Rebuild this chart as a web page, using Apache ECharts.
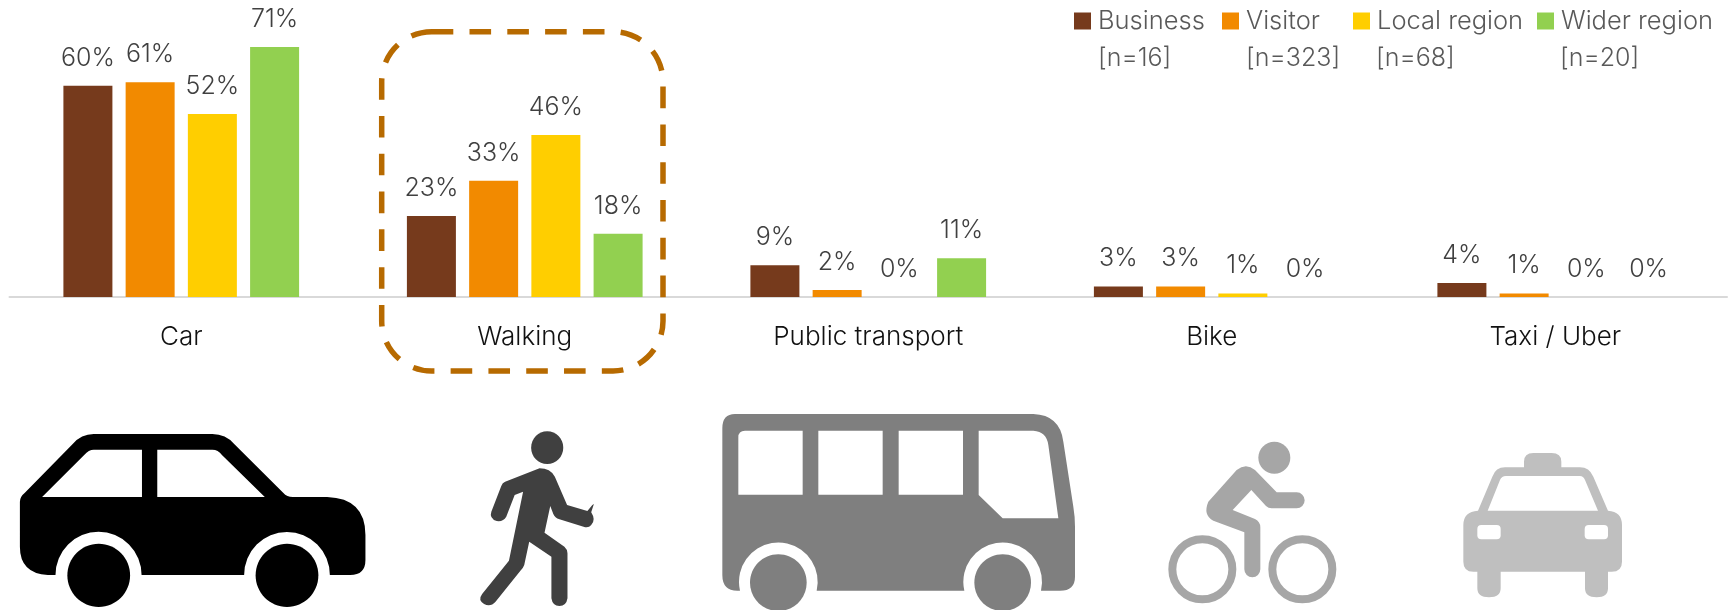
<!DOCTYPE html>
<html>
<head>
<meta charset="utf-8">
<style>html,body{margin:0;padding:0;background:#fff}#chart{width:1732px;height:610px}</style>
<script src="https://cdn.jsdelivr.net/npm/echarts@6/dist/echarts.min.js"></script>
</head>
<body>
<div id="chart"></div>
<script>
// Travel mode share by respondent group
const categories = ['Car', 'Walking', 'Public transport', 'Bike', 'Taxi / Uber'];
const business = [60, 23, 9, 3, 4];
const visitor = [61, 33, 2, 3, 1];
const localRegion = [52, 46, 0, 1, 0];
const widerRegion = [71, 18, 11, 0, 0];
const groupNames = ['Business', 'Visitor', 'Local region', 'Wider region'];
const sampleSizes = ['[n=16]', '[n=323]', '[n=68]', '[n=20]'];

const FONT = 'Inter, "Open Sans", sans-serif';
const COLORS = ['#763A1C', '#F28A00', '#FFCE00', '#92D050'];
const LEGEND_SWATCH_X = [1074, 1222, 1353, 1537];
const LEGEND_NOTE_X = [1098, 1246, 1376, 1560];

function seriesFor(name, values, color) {
  return {
    name, type: 'bar', data: values, barWidth: 49, barGap: '27%',
    itemStyle: { color },
    label: {
      show: true, position: 'top', distance: 15, formatter: '{c}%',
      color: '#404040', fontFamily: FONT, fontSize: 25, fontWeight: 300
    }
  };
}

// Pictogram outlines, each authored in its own drawing units
const iconPaths = {
  carBody: 'M245 102 H555 Q590 102 612 132 L740 278 Q750 291 765 291 H855 Q955 295 955 405 V480 Q955 525 915 525 H862 A112 129 0 0 0 638 525 H370 A112 129 0 0 0 145 525 H125 Q52 520 52 440 V305 Q52 290 65 278 L190 132 Q212 102 245 102 Z',
  carPanes: 'M110 291 L220 165 Q232 149 245 149 H371 V291 Z M411 149 H555 Q570 149 580 165 L692 291 H411 Z',
  walkerBody: 'M1320 245 L1410 205 Q1438 205 1450 230 L1482 315 L1535 333 L1548 315 L1552 312 L1545 337 Q1558 360 1545 375 Q1538 385 1525 380 L1462 358 Q1450 354 1446 342 L1438 318 L1423 398 L1475 440 Q1483 448 1483 460 V595 Q1480 618 1462 618 Q1444 618 1441 595 V470 L1383 425 L1370 495 Q1367 505 1360 512 L1295 605 Q1282 622 1265 612 Q1248 600 1260 582 L1330 482 L1367 275 L1345 285 L1323 350 Q1315 366 1298 363 Q1278 355 1284 335 L1310 258 Q1313 248 1320 245 Z',
  busBody: 'M105 42 H1000 Q1080 45 1090 125 L1120 320 Q1125 350 1125 380 V530 Q1125 572 1080 572 H1023 A118 118 0 1 0 793 572 H350 A118 118 0 1 0 120 572 H112 Q67 572 67 525 V85 Q67 42 105 42 Z',
  busPanes: 'M135 92 H308 V284 H115 V112 Q115 92 135 92 Z M355 92 H548 V284 H355 Z M596 92 H789 V284 H596 Z M836 92 H1000 Q1040 95 1045 135 L1075 355 H908 L836 285 Z',
  riderBody: 'M260 150 Q288 128 315 150 L380 217 H440 A24 24 0 0 1 440 265 H365 Q355 265 348 258 L304 210 L248 270 L315 297 Q331 305 331 322 V448 A24 24 0 0 1 283 448 V337 L190 302 Q158 285 175 245 Z',
  taxiBody: 'M1122 142 V125 Q1122 99 1150 99 H1205 Q1234 99 1234 125 V142 H1290 Q1318 142 1330 170 L1374 272 Q1416 275 1416 315 V425 Q1416 455 1385 455 H1374 V505 Q1374 532 1340 532 Q1305 532 1305 505 V455 H1052 V505 Q1052 532 1017 532 Q982 532 982 505 V455 H970 Q940 455 940 425 V315 Q940 275 984 272 L1027 170 Q1037 142 1065 142 Z',
  taxiScreen: 'M1013 272 L1050 180 Q1055 168 1068 168 H1290 Q1300 168 1305 180 L1344 272 Z'
};
Object.keys(iconPaths).forEach(key => {
  echarts.graphic.registerShape(key, echarts.graphic.extendPath(iconPaths[key], {}));
});

function icon(type, fill, place) {
  return { type, x: place.x, y: place.y, scaleX: place.sx, scaleY: place.sy, silent: true, z: 5,
    style: { fill } };
}
function disc(cx, cy, rx, ry, fill, place) {
  return { type: 'ellipse', x: place.x, y: place.y, scaleX: place.sx, scaleY: place.sy, silent: true, z: 6,
    shape: { cx, cy, rx, ry }, style: { fill } };
}
function box(bx, by, w, h, r, fill, place) {
  return { type: 'rect', x: place.x, y: place.y, scaleX: place.sx, scaleY: place.sy, silent: true, z: 6,
    shape: { x: bx, y: by, width: w, height: h, r }, style: { fill } };
}
function ring(cx, cy, place) {
  return { type: 'circle', x: place.x, y: place.y, scaleX: place.sx, scaleY: place.sy, silent: true, z: 5,
    shape: { cx, cy, r: 90 }, style: { fill: 'none', stroke: '#A6A6A6', lineWidth: 24 } };
}

const LEFT_ROW = { x: 0, y: 400, sx: 1 / 2.6133, sy: 1 / 3 };
const BUS_ROW = { x: 700, y: 400, sx: 1 / 3, sy: 1 / 3 };
const RIGHT_ROW = { x: 1150, y: 420, sx: 1 / 3, sy: 1 / 3 };

const pictograms = [
  icon('carBody', '#000000', LEFT_ROW),
  icon('carPanes', '#FFFFFF', LEFT_ROW),
  disc(258, 526, 82, 95, '#000000', LEFT_ROW),
  disc(750, 526, 82, 95, '#000000', LEFT_ROW),
  icon('walkerBody', '#404040', LEFT_ROW),
  disc(1430, 143, 42, 49, '#404040', LEFT_ROW),
  icon('busBody', '#7F7F7F', BUS_ROW),
  icon('busPanes', '#FFFFFF', BUS_ROW),
  disc(235, 548, 85, 85, '#7F7F7F', BUS_ROW),
  disc(908, 548, 85, 85, '#7F7F7F', BUS_ROW),
  icon('riderBody', '#A6A6A6', RIGHT_ROW),
  disc(373, 113, 48, 48, '#A6A6A6', RIGHT_ROW),
  ring(157, 448, RIGHT_ROW),
  ring(457, 448, RIGHT_ROW),
  icon('taxiBody', '#BFBFBF', RIGHT_ROW),
  icon('taxiScreen', '#FFFFFF', RIGHT_ROW),
  box(982, 315, 70, 43, 12, '#FFFFFF', RIGHT_ROW),
  box(1304, 315, 70, 43, 12, '#FFFFFF', RIGHT_ROW)
];

// Highlight around the Walking group
const highlight = {
  type: 'rect', silent: true, z: 10,
  shape: { x: 381.7, y: 31.7, width: 281.3, height: 339.3, r: 50 },
  style: { fill: 'none', stroke: '#B76A00', lineWidth: 5.5, lineDash: [21.6, 16.2] }
};

const notes = sampleSizes.map((text, i) => ({
  type: 'text', x: LEGEND_NOTE_X[i], y: 58, silent: true,
  style: { text, fill: '#595959', fontFamily: FONT, fontSize: 25, fontWeight: 300, verticalAlign: 'middle' }
}));

const chart = echarts.init(document.getElementById('chart'), null, { renderer: 'canvas' });
chart.setOption({
  animation: false,
  backgroundColor: '#FFFFFF',
  grid: { left: 9.5, right: 5, top: 15.4, bottom: 313, containLabel: false },
  legend: groupNames.map((name, i) => ({
    data: [name], left: LEGEND_SWATCH_X[i], top: 8, icon: 'rect', padding: 0,
    itemWidth: 17, itemHeight: 17, selectedMode: false, orient: 'horizontal',
    textStyle: { color: '#595959', fontFamily: FONT, fontSize: 25.5, fontWeight: 300, padding: [0, 0, 0, 2] }
  })),
  xAxis: {
    type: 'category', data: categories,
    axisLine: { show: true, lineStyle: { color: '#D9D9D9', width: 2 } },
    axisTick: { show: false },
    axisLabel: { color: '#111111', fontFamily: FONT, fontSize: 26, fontWeight: 300, margin: 27 }
  },
  yAxis: { type: 'value', min: 0, max: 80, show: false, splitLine: { show: false } },
  series: [
    seriesFor(groupNames[0], business, COLORS[0]),
    seriesFor(groupNames[1], visitor, COLORS[1]),
    seriesFor(groupNames[2], localRegion, COLORS[2]),
    seriesFor(groupNames[3], widerRegion, COLORS[3])
  ],
  graphic: { elements: [...pictograms, highlight, ...notes] }
});
</script>
</body>
</html>
